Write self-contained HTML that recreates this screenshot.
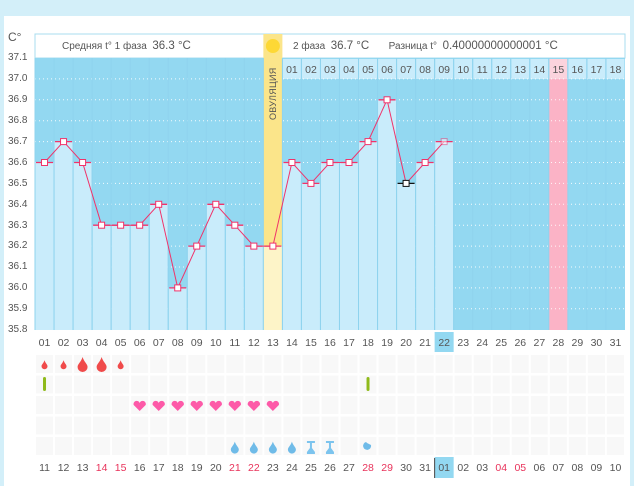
<!DOCTYPE html>
<html><head><meta charset="utf-8"><style>
body{margin:0;width:634px;height:478px;background:#d3eff9;font-family:"Liberation Sans","DejaVu Sans",sans-serif;overflow:hidden;position:relative}
.panel{position:absolute;left:4px;top:16px;width:626px;height:470px;background:#fff}
.row{position:absolute;left:35px;width:590px;display:flex}
.row div{flex:1;text-align:center;font-size:10.5px;color:#555}
.row div.r{color:#e8325a}
.ax{position:absolute;left:8px;font-size:10px;color:#555}
svg{position:absolute;left:0;top:0}
</style></head><body>
<div class="panel"></div>
<svg width="634" height="478" id="s"></svg>
<svg width="634" height="478"><text transform="translate(276,120) rotate(-90)" font-size="9" fill="#555" font-family="Liberation Sans, sans-serif" letter-spacing="0.3">ОВУЛЯЦИЯ</text></svg>
<div class="ax" style="top:30px;font-size:12px">C°</div>
<div class="ax" style="top:52px">37.1</div><div class="ax" style="top:73px">37.0</div><div class="ax" style="top:94px">36.9</div><div class="ax" style="top:115px">36.8</div><div class="ax" style="top:136px">36.7</div><div class="ax" style="top:157px">36.6</div><div class="ax" style="top:178px">36.5</div><div class="ax" style="top:199px">36.4</div><div class="ax" style="top:220px">36.3</div><div class="ax" style="top:240px">36.2</div><div class="ax" style="top:261px">36.1</div><div class="ax" style="top:282px">36.0</div><div class="ax" style="top:303px">35.9</div><div class="ax" style="top:324px">35.8</div>
<div style="position:absolute;left:62px;top:40px;font-size:10px;color:#555">Средняя t° 1 фаза &nbsp;<span style="font-size:11.5px">36.3 °C</span></div>
<div style="position:absolute;left:293px;top:40px;font-size:10px;color:#555">2 фаза &nbsp;<span style="font-size:11.5px">36.7 °C</span> &nbsp;&nbsp;&nbsp;&nbsp;&nbsp; Разница t° &nbsp;<span style="font-size:11.5px">0.40000000000001 °C</span></div>
<div class="row" style="top:64px"><div></div><div></div><div></div><div></div><div></div><div></div><div></div><div></div><div></div><div></div><div></div><div></div><div></div><div>01</div><div>02</div><div>03</div><div>04</div><div>05</div><div>06</div><div>07</div><div>08</div><div>09</div><div>10</div><div>11</div><div>12</div><div>13</div><div>14</div><div>15</div><div>16</div><div>17</div><div>18</div></div>
<div class="row" style="top:337px"><div>01</div><div>02</div><div>03</div><div>04</div><div>05</div><div>06</div><div>07</div><div>08</div><div>09</div><div>10</div><div>11</div><div>12</div><div>13</div><div>14</div><div>15</div><div>16</div><div>17</div><div>18</div><div>19</div><div>20</div><div>21</div><div>22</div><div>23</div><div>24</div><div>25</div><div>26</div><div>27</div><div>28</div><div>29</div><div>30</div><div>31</div></div>
<div class="row" style="top:462px"><div>11</div><div>12</div><div>13</div><div class="r">14</div><div class="r">15</div><div>16</div><div>17</div><div>18</div><div>19</div><div>20</div><div class="r">21</div><div class="r">22</div><div>23</div><div>24</div><div>25</div><div>26</div><div>27</div><div class="r">28</div><div class="r">29</div><div>30</div><div>31</div><div>01</div><div>02</div><div>03</div><div class="r">04</div><div class="r">05</div><div>06</div><div>07</div><div>08</div><div>09</div><div>10</div></div>
<script>
var s=document.getElementById('s'),h='';
var W=19.03,L=35;function cx(i){return L+(i-0.5)*W}function xl(i){return L+(i-1)*W}
function Y(t){return 58+(37.1-t)*209}
h+='<rect x="35" y="34" width="590" height="24" fill="#fff" stroke="#a8dcef"/>';
h+='<rect x="35" y="58" width="590" height="272" fill="#93d8f1"/>';
for(var i=14;i<=31;i++)h+='<rect x="'+(xl(i)+0.5)+'" y="59" width="'+(W-1)+'" height="20" fill="'+(i==28?'#fbd3dd':'#c9ecfb')+'"/>';
h+='<rect x="'+xl(28)+'" y="79" width="'+W+'" height="251" fill="#fbb3c6"/>';
for(var k=1;k<13;k++){var y=58+k*20.9;h+='<line x1="35" x2="625" y1="'+y+'" y2="'+y+'" stroke="#fff" stroke-dasharray="1,3" opacity=".9"/>'}
var T=[36.6,36.7,36.6,36.3,36.3,36.3,36.4,36.0,36.2,36.4,36.3,36.2,36.2,36.6,36.5,36.6,36.6,36.7,36.9,36.5,36.6,36.7];
for(var i=1;i<=22;i++){if(i==13)continue;var y=Y(T[i-1]);h+='<rect x="'+(xl(i)+0.5)+'" y="'+y+'" width="'+(W-1)+'" height="'+(330-y)+'" fill="#c9ecfb"/>'}
h+='<rect x="'+xl(13)+'" y="34" width="'+W+'" height="'+(Y(36.2)-34)+'" fill="#fbe58a"/>';
h+='<rect x="'+xl(13)+'" y="'+Y(36.2)+'" width="'+W+'" height="'+(330-Y(36.2))+'" fill="#fdf4c8"/>';
h+='<circle cx="'+cx(13)+'" cy="46" r="7" fill="#fdd835"/>';
for(var i=1;i<=31;i++)h+='<line x1="'+xl(i)+'" x2="'+xl(i)+'" y1="58" y2="330" stroke="#8fd3ee" stroke-width="1"/>';
h+='<rect x="'+xl(22)+'" y="332" width="'+W+'" height="20" fill="#93d8f1"/>';
h+='<rect x="'+xl(22)+'" y="457" width="'+W+'" height="21" fill="#93d8f1"/>';
h+='<line x1="'+xl(22)+'" x2="'+xl(22)+'" y1="458" y2="478" stroke="#444"/>';
for(var r=0;r<5;r++)for(var i=1;i<=31;i++)h+='<rect x="'+(xl(i)+1)+'" y="'+(355+r*20.5)+'" width="'+(W-2)+'" height="18" fill="#f8f8f8"/>';
var p='';for(var i=1;i<=22;i++)p+=cx(i)+','+Y(T[i-1])+' ';
h+='<polyline points="'+p+'" fill="none" stroke="#f0336a" stroke-width="1"/>';
for(var i=1;i<=22;i++){var y=Y(T[i-1]),c=(i==20?'#111':'#f0336a');h+='<line x1="'+(xl(i)+1)+'" x2="'+(xl(i)+W-1)+'" y1="'+y+'" y2="'+y+'" stroke="'+c+'" stroke-width="1.3"/>';if(i!=22)h+='<rect x="'+(cx(i)-3)+'" y="'+(y-3)+'" width="6" height="6" fill="#fff" stroke="'+c+'"/>';else h+='<rect x="'+(cx(i)-3)+'" y="'+(y-3)+'" width="6" height="6" fill="#fff" stroke="#f0336a" opacity=".5"/>'}
h+='<path d="M'+(cx(12)-1)+',316 a6,6 0 1,0 8,9 a5,5 0 1,1 -8,-9z" fill="#f39c12"/>';
function drop(x,y,sz,c){return '<path d="M'+x+','+(y-sz*1.6)+' C'+(x+sz*0.3)+','+(y-sz*0.6)+' '+(x+sz)+','+(y-sz*0.2)+' '+(x+sz)+','+(y+sz*0.4)+' A'+sz+','+sz+' 0 1,1 '+(x-sz)+','+(y+sz*0.4)+' C'+(x-sz)+','+(y-sz*0.2)+' '+(x-sz*0.3)+','+(y-sz*0.6)+' '+x+','+(y-sz*1.6)+'z" fill="'+c+'"/>'}
var ds=[3,3,5,5,3];for(var i=0;i<5;i++)h+=drop(cx(i+1),365,ds[i],'#f04a4a');
h+='<rect x="'+(cx(1)-1.5)+'" y="377" width="3" height="14" rx="1.5" fill="#8fba1a"/><rect x="'+(cx(18)-1.5)+'" y="377" width="3" height="14" rx="1.5" fill="#8fba1a"/>';
for(var i=6;i<=13;i++){var x=cx(i),y=406;h+='<path d="M'+x+','+(y+5)+' L'+(x-6)+','+(y-1)+' A3,3 0 0,1 '+x+','+(y-3)+' A3,3 0 0,1 '+(x+6)+','+(y-1)+'z" fill="#fd5aa8"/>'}
for(var i=11;i<=14;i++)h+=drop(cx(i),448,4,'#6fbbe8');
for(var i=15;i<=16;i++){var x=cx(i);h+='<path d="M'+(x-4)+',441 h8 v2 h-3 v5 l3,4 v2 h-8 v-2 l3,-4 v-5 h-3z" fill="#7cc4ee"/>'}
h+='<path d="M'+(cx(18)-2)+',442 a4,4 0 1,0 5,3 l-4,-2z" fill="#6fbbe8"/>';
s.innerHTML=h;
</script>
</body></html>
